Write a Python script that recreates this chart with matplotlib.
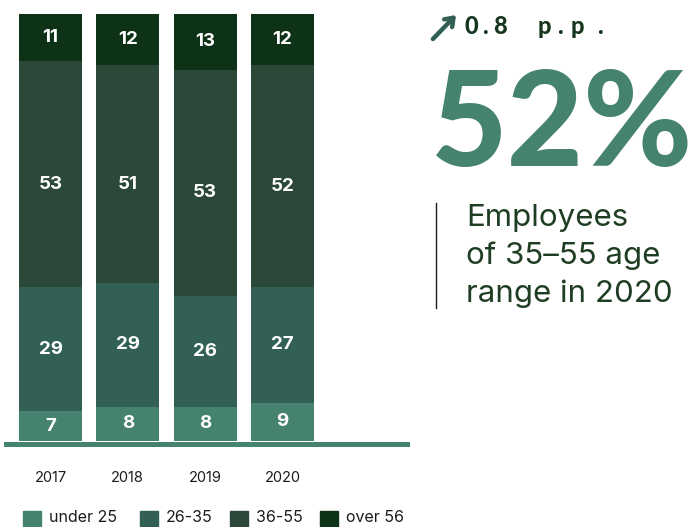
import matplotlib.pyplot as plt
import numpy as np

plt.rcParams["font.family"] = ["Inter", "DejaVu Sans"]

years = ["2017", "2018", "2019", "2020"]
groups = ["under 25", "26-35", "36-55", "over 56"]
under_25 = [7, 8, 8, 9]
age_26_35 = [29, 29, 26, 27]
age_36_55 = [53, 51, 53, 52]
over_56 = [11, 12, 13, 12]
colors = ["#468270", "#326055", "#2b4838", "#0e3216"]

W, H = 696, 527
fig = plt.figure(figsize=(W / 100, H / 100), dpi=100)

# chart area in pixel terms: x 6..407, y 14..441 (top to bottom)
ax = fig.add_axes([6 / W, (H - 441) / H, (407 - 6) / W, (441 - 14) / H])
step = 77.3
x = np.arange(len(years))
ax.set_xlim((6 - 50.5) / step, (407 - 50.5) / step)
ax.set_ylim(0, 100)

# the big middle band has its label a little below centre
label_shift = [0, 0, -2.4, 0]
bottom = np.zeros(len(years))
for vals, col, sh in zip([under_25, age_26_35, age_36_55, over_56], colors,
                         label_shift):
    vals = np.array(vals)
    ax.bar(x, vals, bottom=bottom, width=63 / step, color=col, linewidth=0)
    for xi, b, v in zip(x, bottom, vals):
        ax.text(xi, b + v / 2 + sh, str(v), ha="center", va="center",
                color="white", fontsize=13.5, fontweight="bold")
    bottom += vals

# baseline under the bars
ax.axhline(-0.6, color=colors[0], lw=3.6, clip_on=False)
ax.axis("off")

for xi, yr in zip(x, years):
    ax.text(xi, -8.6, yr, ha="center", va="center", fontsize=10.5,
            color="#1c1c1c")

# legend row
leg_x = [23, 140, 230, 320]
for lx, g, col in zip(leg_x, groups, colors):
    fig.patches.append(plt.Rectangle((lx / W, (H - 526) / H), 18 / W, 15 / H,
                                     transform=fig.transFigure, color=col))
    fig.text((lx + 26) / W, (H - 518) / H, g, fontsize=11.5, va="center",
             color="#1c1c1c")

# highlight on the right
ax.annotate("", xy=(458 / W, (H - 13) / H), xytext=(431 / W, (H - 41) / H),
            xycoords="figure fraction", textcoords="figure fraction",
            arrowprops=dict(arrowstyle="->,head_length=0.55,head_width=0.4",
                            color="#326055", lw=3.2))
pp_chars = ["0", ".", "8", "p", ".", "p", "."]
pp_x = [471.5, 485, 500, 544, 560, 577, 600]
for cx, ch in zip(pp_x, pp_chars):
    fig.text(cx / W, (H - 34) / H, ch, fontsize=17, fontweight="black",
             family="Lato", color="#17361d", va="baseline", ha="center")
fig.text(431 / W, (H - 128) / H, "52%", fontsize=95, fontweight="black",
         family="Lato", color="#468270", va="center", ha="left")
fig.add_artist(plt.Line2D([436 / W, 436 / W], [(H - 203) / H, (H - 308) / H],
                          color="#1c1c1c", lw=1))
fig.text(466 / W, (H - 256) / H, "Employees\nof 35\u201355 age\nrange in 2020",
         fontsize=22.5, color="#1f3d22", va="center", ha="left",
         linespacing=1.4)

fig.savefig("out.png", dpi=100)
